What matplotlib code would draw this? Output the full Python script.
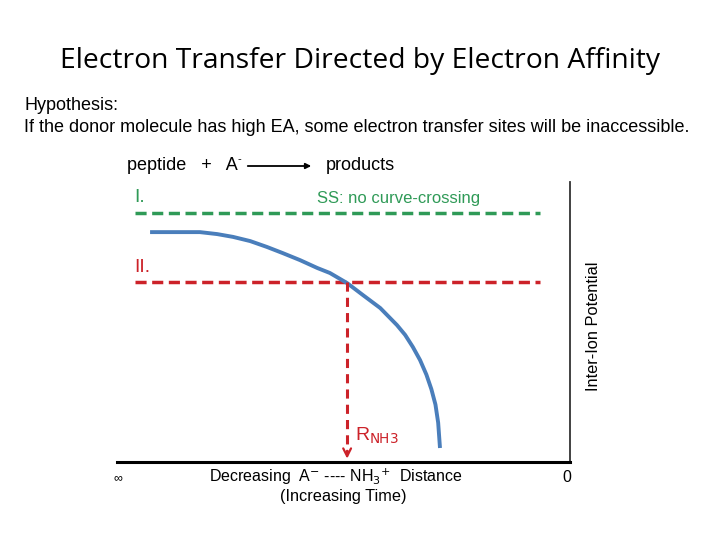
import matplotlib
matplotlib.use("Agg")
import matplotlib.pyplot as plt

# curve (distance units 0..10, potential units 0..10)
curve_x = [0.73, 1.83, 2.21, 2.56, 2.94, 3.31, 3.66, 4.04, 4.42, 4.70, 5.08, 5.43, 5.81,
           6.18, 6.36, 6.53, 6.69, 6.83, 6.94, 7.03, 7.09, 7.13]
curve_y = [8.21, 8.21, 8.14, 8.04, 7.89, 7.68, 7.46, 7.21, 6.93, 6.75, 6.39, 5.96, 5.50,
           4.89, 4.54, 4.11, 3.64, 3.12, 2.60, 2.05, 1.40, 0.50]
level_I = 8.9
level_II = 6.43
level_x = [0.4, 9.34]
cross_x = 5.08

green = '#2f9a57'
red = '#cc2229'
blue = '#4a7ebb'

W, H = 720, 540
fig = plt.figure(figsize=(7.2, 5.4), dpi=100)
fig.patch.set_facecolor('white')

def fx(px):
    return px / W

def fy(py):
    return 1 - py / H

ax = fig.add_axes([fx(117), fy(462), (570 - 117) / W, (462 - 182) / H])
ax.set_xlim(0, 10)
ax.set_ylim(0, 10)
for s in ['top', 'left']:
    ax.spines[s].set_visible(False)
ax.spines['bottom'].set_linewidth(2.2)
ax.spines['right'].set_linewidth(1.3)
ax.spines['right'].set_color('#333333')
ax.set_xticks([])
ax.set_yticks([])
ax.patch.set_alpha(0)

ax.plot(level_x, [level_I, level_I], color=green, lw=2.5, ls=(0, (3.2, 1.6)))
ax.plot(level_x, [level_II, level_II], color=red, lw=2.5, ls=(0, (3.2, 1.6)))
ax.plot(curve_x, curve_y, color=blue, lw=2.8, solid_capstyle='butt', solid_joinstyle='round')
ax.plot([cross_x, cross_x], [level_II, 0.3], color=red, lw=2.2, ls=(0, (3, 2)))
ax.annotate('', xy=(cross_x, 0.02), xytext=(cross_x, 0.5),
            arrowprops=dict(arrowstyle='->', color=red, lw=1.6, mutation_scale=14))

sans = ['Liberation Sans', 'DejaVu Sans']
fig.text(0.5, fy(61), 'Electron Transfer Directed by Electron Affinity',
         ha='center', va='center', fontsize=20.3, family=['Open Sans', 'DejaVu Sans'])
fig.text(fx(24), fy(105), 'Hypothesis:', ha='left', va='center', fontsize=13, family=sans)
fig.text(fx(24), fy(127), 'If the donor molecule has high EA, some electron transfer sites will be inaccessible.',
         ha='left', va='center', fontsize=13, family=sans)

fig.text(fx(127), fy(166), 'peptide   +   A', ha='left', va='center', fontsize=13, family=sans)
fig.text(fx(237), fy(159), '-', ha='left', va='center', fontsize=8, family=sans)
fig.add_artist(matplotlib.patches.FancyArrowPatch((fx(245), fy(166)), (fx(314), fy(166)),
               transform=fig.transFigure, arrowstyle='-|>', mutation_scale=8, lw=1.3, color='black'))
fig.text(fx(326), fy(166), 'products', ha='left', va='center', fontsize=13, family=sans)

fig.text(fx(134), fy(198), 'I.', ha='left', va='center', fontsize=14, color=green, family=sans)
fig.text(fx(317), fy(198), 'SS: no curve-crossing', ha='left', va='center', fontsize=12, color=green, family=sans)
fig.text(fx(134), fy(267), 'II.', ha='left', va='center', fontsize=14, color=red, family=sans)
fig.text(fx(355), fy(436), 'R$_{\\mathrm{NH3}}$', ha='left', va='center', fontsize=14, color=red, family=sans)

fig.text(fx(118), fy(478), '∞', ha='center', va='center', fontsize=9, family=sans)
fig.text(fx(336), fy(477), 'Decreasing  A$^{-}$ ---- NH$_3$$^{+}$  Distance', ha='center', va='center',
         fontsize=11.5, family=sans)
fig.text(fx(343), fy(496), '(Increasing Time)', ha='center', va='center', fontsize=11.7, family=sans)
fig.text(fx(567), fy(477), '0', ha='center', va='center', fontsize=11.5, family=sans)
fig.text(fx(593), fy(326), 'Inter-Ion Potential', ha='center', va='center', rotation=90,
         fontsize=11.8, family=sans)

fig.savefig('out.png', dpi=100, facecolor='white')
